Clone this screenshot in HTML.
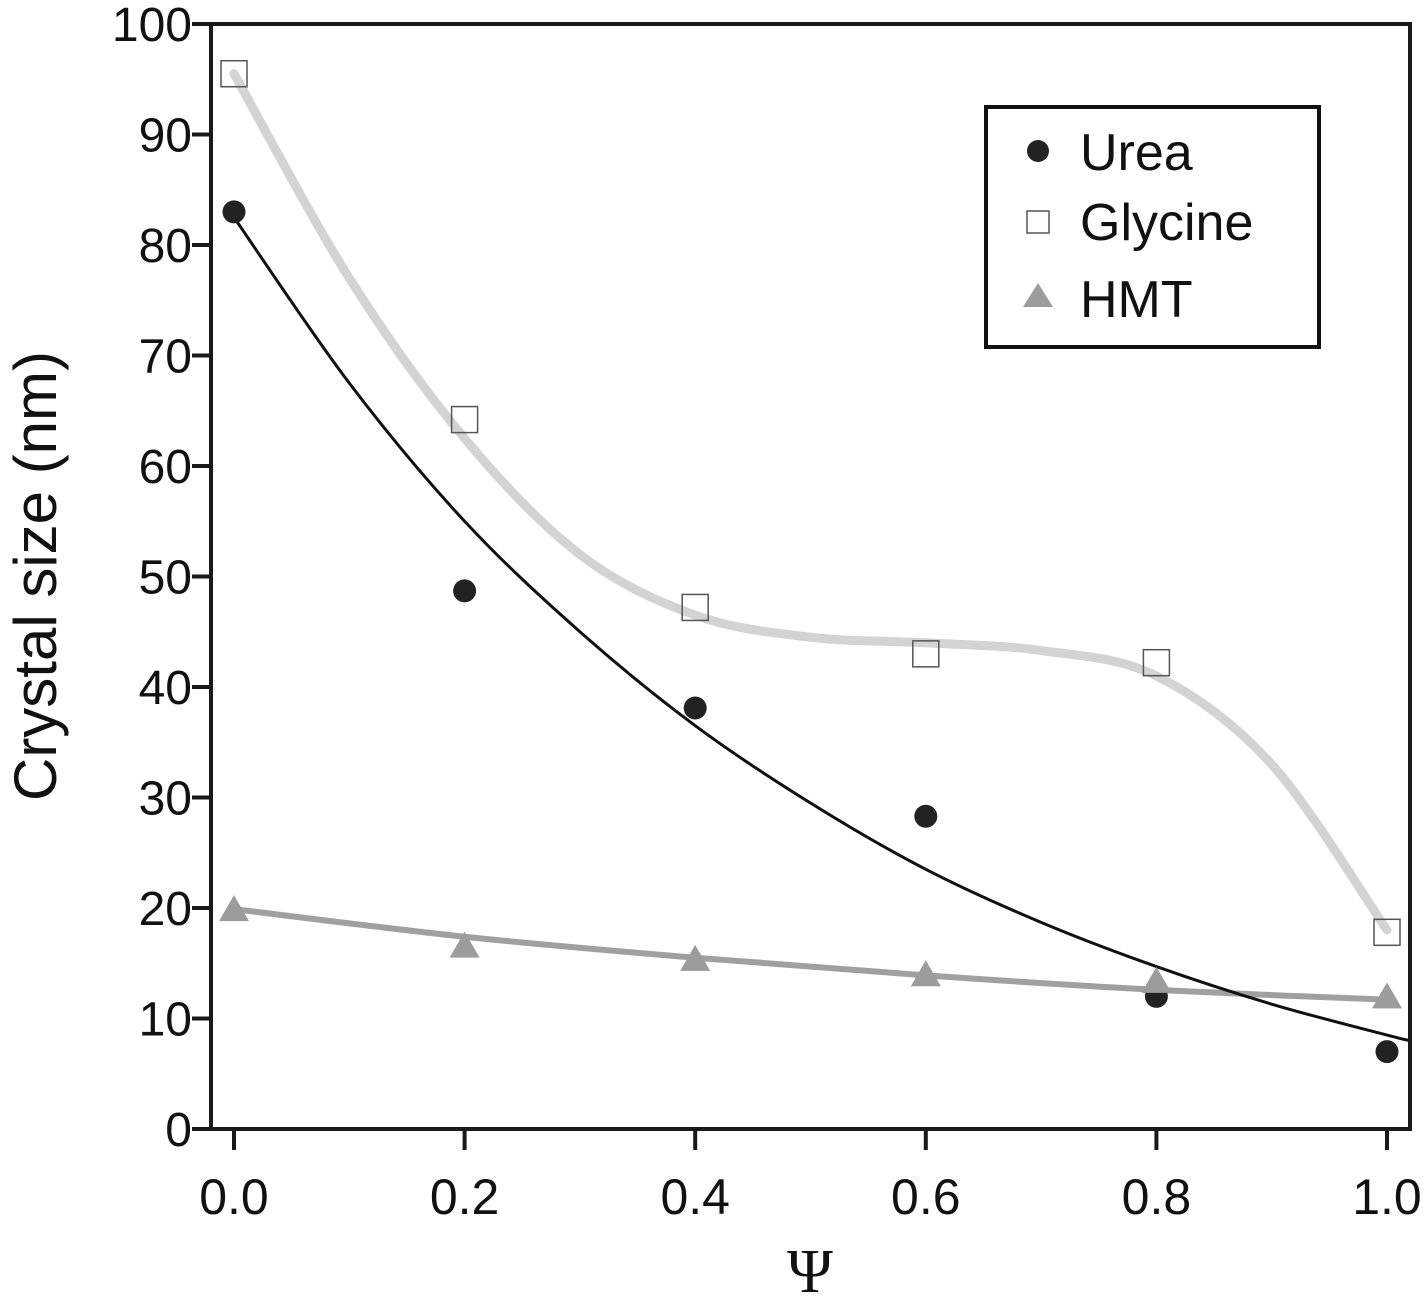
<!DOCTYPE html>
<html><head><meta charset="utf-8"><style>
html,body{margin:0;padding:0;background:#fff}
svg{display:block}
text{font-family:"Liberation Sans",Arial,sans-serif;fill:#111}
</style></head><body>
<svg id="chart" width="1425" height="1296" viewBox="0 0 1425 1296" xmlns="http://www.w3.org/2000/svg">
<g id="fits"></g>
<g id="marks"></g>
<rect x="211" y="24" width="1199" height="1105" fill="none" stroke="#1a1a1a" stroke-width="4"/>
<g id="axes"></g>
<text transform="translate(56,576) rotate(-90)" text-anchor="middle" font-size="60">Crystal size (nm)</text>
<text x="810" y="1292" text-anchor="middle" font-size="62" style="font-family:'Liberation Serif',serif">Ψ</text>
<g>
<rect x="986" y="107" width="333" height="240" fill="#fff" stroke="#111" stroke-width="4"/>
<circle cx="1038" cy="151" r="11" fill="#222"/>
<text x="1080" y="170" font-size="52">Urea</text>
<rect x="1027" y="211" width="22" height="22" fill="#fff" stroke="#555" stroke-width="1.5"/>
<text x="1080" y="240" font-size="52">Glycine</text>
<polygon points="1038,283 1053,307 1023,307" fill="#9c9c9c"/>
<text x="1080" y="317" font-size="52">HMT</text>
</g>
</svg>
<script>
const xVals = [0, 0.2, 0.4, 0.6, 0.8, 1.0];
const ureaVals = [83, 48.7, 38.1, 28.3, 12, 7];
const glycineVals = [95.5, 64.2, 47.2, 43, 42.2, 17.8];
const hmtVals = [19.9, 16.6, 15.4, 14, 13.4, 12];
const ureaFitX = [0,0.1,0.2,0.3,0.4,0.5,0.6,0.7,0.8,0.9,1.0,1.02];
const ureaFitY = [82.5,67.5,55,45,36.5,29.5,23.5,18.7,14.7,11.3,8.5,8];
const glyFitX = [0,0.1,0.2,0.3,0.4,0.5,0.6,0.7,0.8,0.9,1.0];
const glyFitY = [95.5,77,62.5,52,46.5,44.5,44,43.3,41,33,18];
const hmtFitX = [0,0.2,0.4,0.6,0.8,1.0];
const hmtFitY = [19.9,17.4,15.5,13.9,12.6,11.7];
const xTicks = [0,0.2,0.4,0.6,0.8,1.0];
const xTickLabels = ["0.0","0.2","0.4","0.6","0.8","1.0"];
const yTicks = [0,10,20,30,40,50,60,70,80,90,100];

const NS="http://www.w3.org/2000/svg";
const sx=v=>234+v*1153;
const sy=v=>1129-v*11.05;
function mk(tag,attrs,parent){const e=document.createElementNS(NS,tag);for(const k in attrs)e.setAttribute(k,attrs[k]);parent.appendChild(e);return e;}
function smooth(xs,ys){
  const p=xs.map((x,i)=>[sx(x),sy(ys[i])]);
  let d=`M${p[0][0]},${p[0][1]}`;
  for(let i=0;i<p.length-1;i++){
    const p0=p[i-1]||p[i],p1=p[i],p2=p[i+1],p3=p[i+2]||p[i+1];
    const c1=[p1[0]+(p2[0]-p0[0])/6,p1[1]+(p2[1]-p0[1])/6];
    const c2=[p2[0]-(p3[0]-p1[0])/6,p2[1]-(p3[1]-p1[1])/6];
    d+=` C${c1[0]},${c1[1]} ${c2[0]},${c2[1]} ${p2[0]},${p2[1]}`;
  }
  return d;
}
const axes=document.getElementById('axes');
yTicks.forEach(t=>{
  const l=mk('line',{x1:192,x2:211,y1:sy(t),y2:sy(t),stroke:'#1a1a1a','stroke-width':4},axes);
  
  
  const tx=mk('text',{x:192,y:sy(t)+17,'text-anchor':'end','font-size':48},axes);
  tx.textContent=t;
  
  
});
xTicks.forEach((t,i)=>{
  const l=mk('line',{x1:sx(t),x2:sx(t),y1:1129,y2:1150,stroke:'#1a1a1a','stroke-width':4},axes);
  
  
  const tx=mk('text',{x:sx(t),y:1214,'text-anchor':'middle','font-size':50},axes);
  tx.textContent=xTickLabels[i];
  
  
});
const fits=document.getElementById('fits');
let f=mk('path',{d:smooth(glyFitX,glyFitY),fill:'none',stroke:'#d3d3d3','stroke-width':9,'stroke-linecap':'round'},fits);


f=mk('path',{d:smooth(hmtFitX,hmtFitY),fill:'none',stroke:'#a0a0a0','stroke-width':6,'stroke-linecap':'round'},fits);


f=mk('path',{d:smooth(ureaFitX,ureaFitY),fill:'none',stroke:'#111','stroke-width':3},fits);


const marks=document.getElementById('marks');
xVals.forEach((x,i)=>{
  const g=mk('rect',{x:sx(x)-13,y:sy(glycineVals[i])-13,width:26,height:26,fill:'none',stroke:'#555','stroke-width':1.5},marks);
  
  
  const c=mk('circle',{cx:sx(x),cy:sy(ureaVals[i]),r:11.5,fill:'#222'},marks);
  
  
  const X=sx(x),Y=sy(hmtVals[i]);
  const t=mk('polygon',{points:`${X},${Y-14} ${X+15},${Y+12} ${X-15},${Y+12}`,fill:'#9c9c9c'},marks);
  
  
});
</script>
</body></html>
